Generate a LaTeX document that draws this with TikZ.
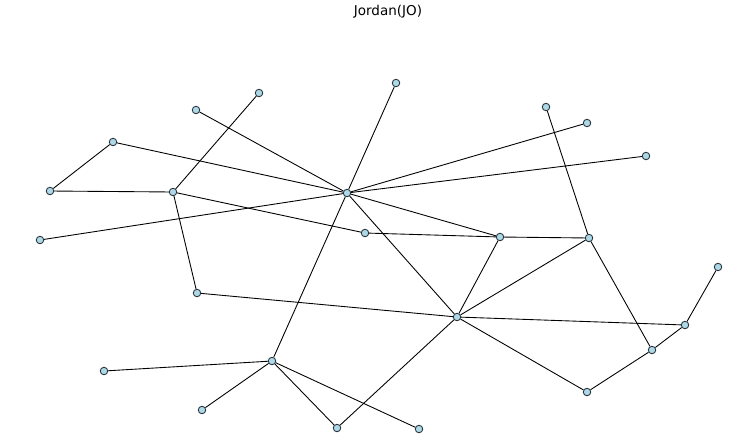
\documentclass[tikz,border=0pt]{standalone}
\usepackage{fontspec}
\setmainfont{DejaVu Sans}
\usepackage{xcolor}
\definecolor{vfill}{RGB}{173,216,230}
\definecolor{vline}{RGB}{40,50,60}

\begin{document}
\begin{tikzpicture}[x={(0.02cm,0)}, y={(0,-0.02cm)},
		city/.style={circle, draw=vline, fill=vfill, line width=0.5pt, minimum size=0.15cm, inner sep=0pt},
		road/.style={line width=0.5pt, black}]
		\useasboundingbox (0,0) rectangle (750,443);
		\node[font=\fontsize{7.7}{9}\selectfont] (title) at (388,12) {Jordan(JO)};
		% vertices
		\node[city] (v1) at (396,83) {};
		\node[city] (v2) at (259,93) {};
		\node[city] (v3) at (196,110) {};
		\node[city] (v4) at (546,107) {};
		\node[city] (v5) at (587,123) {};
		\node[city] (v6) at (113,142) {};
		\node[city] (v7) at (646,156) {};
		\node[city] (v8) at (50,191) {};
		\node[city] (v9) at (173,192) {};
		\node[city] (hub) at (347,193) {};
		\node[city] (v11) at (40,240) {};
		\node[city] (v12) at (365,233) {};
		\node[city] (v13) at (500,237) {};
		\node[city] (v14) at (589,238) {};
		\node[city] (v15) at (718,267) {};
		\node[city] (v16) at (197,293) {};
		\node[city] (hub2) at (457,317) {};
		\node[city] (v18) at (685,325) {};
		\node[city] (v19) at (652,350) {};
		\node[city] (hub3) at (272,361) {};
		\node[city] (v21) at (104,371) {};
		\node[city] (v22) at (587,392) {};
		\node[city] (v23) at (202,410) {};
		\node[city] (v24) at (337,428) {};
		\node[city] (v25) at (419,429) {};
		% edges
		\draw[road] (v1) -- (hub) -- (hub3);
		\draw[road] (v2) -- (v9);
		\draw[road] (v3) -- (hub);
		\draw[road] (v4) -- (v14);
		\draw[road] (v5) -- (hub);
		\draw[road] (v6) -- (hub);
		\draw[road] (v6) -- (v8);
		\draw[road] (v11) -- (hub) -- (v7);
		\draw[road] (v8) -- (v9);
		\draw[road] (v9) -- (v12);
		\draw[road] (v9) -- (v16);
		\draw[road] (hub) -- (hub2);
		\draw[road] (hub) -- (v13);
		\draw[road] (v12) -- (v13) -- (v14);
		\draw[road] (v13) -- (hub2);
		\draw[road] (v14) -- (hub2);
		\draw[road] (v14) -- (v19);
		\draw[road] (v16) -- (hub2);
		\draw[road] (hub2) -- (v18);
		\draw[road] (hub2) -- (v22);
		\draw[road] (hub2) -- (v24);
		\draw[road] (v15) -- (v18) -- (v19) -- (v22);
		\draw[road] (hub3) -- (v21);
		\draw[road] (hub3) -- (v23);
		\draw[road] (hub3) -- (v24);
		\draw[road] (hub3) -- (v25);
	\end{tikzpicture}
\end{document}
